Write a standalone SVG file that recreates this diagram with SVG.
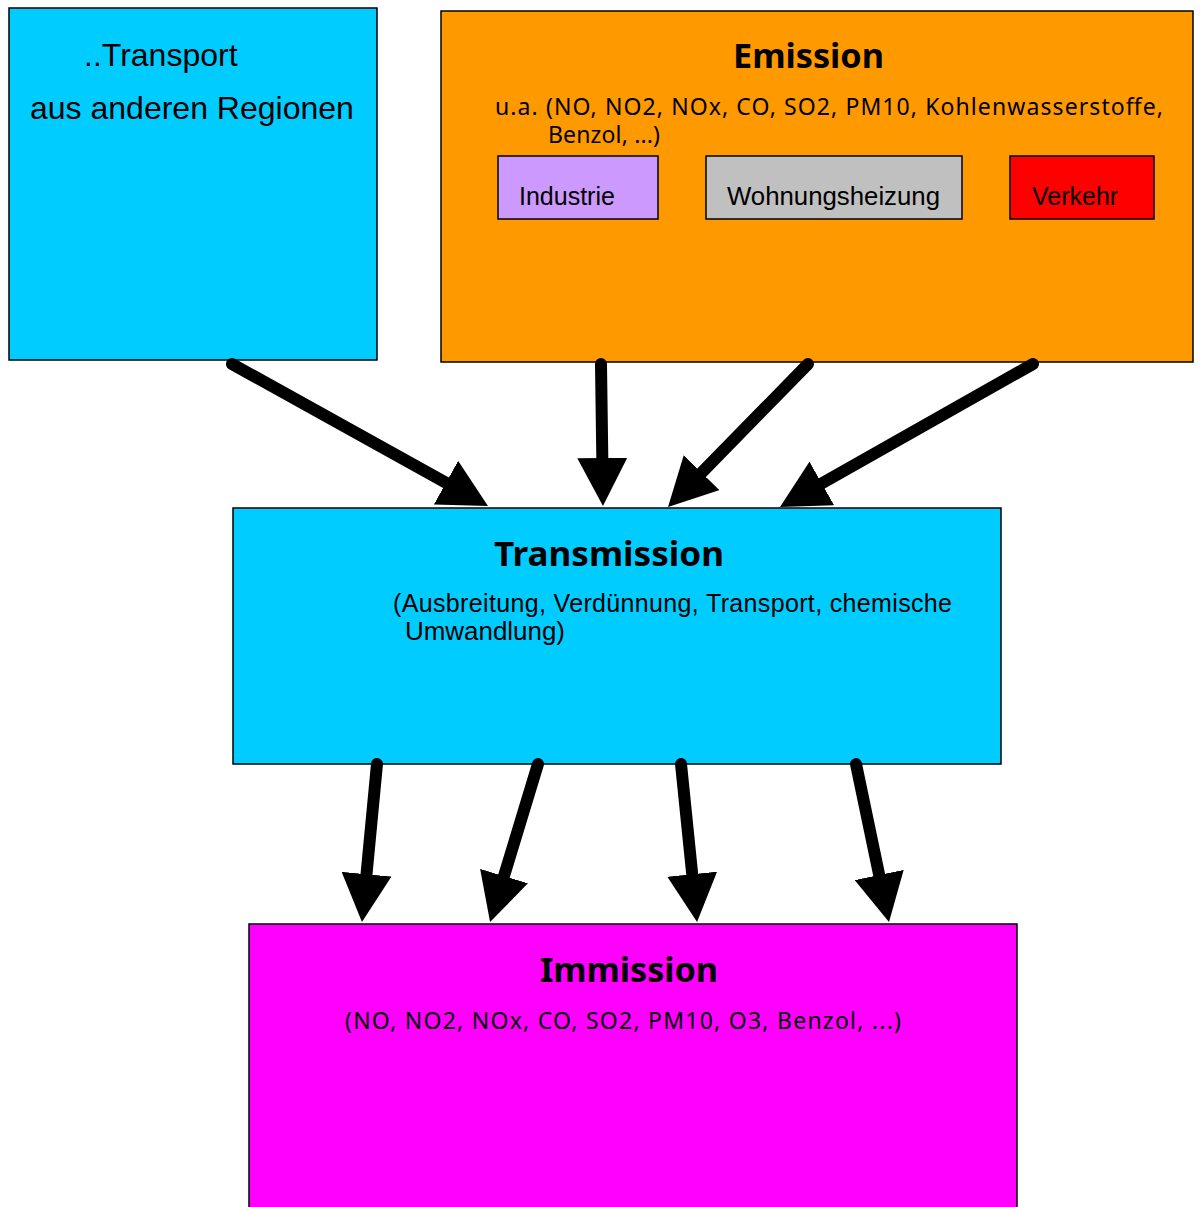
<svg xmlns="http://www.w3.org/2000/svg" width="1202" height="1207" viewBox="0 0 1202 1207">
<style>
.box{stroke:#000;stroke-width:1.5}
.arial{font-family:"Liberation Sans",Arial,sans-serif;fill:#000}
.title{font-family:"Noto Sans","DejaVu Sans",sans-serif;font-weight:bold;font-size:34px;fill:#000}
.para{font-family:"Noto Sans","DejaVu Sans",sans-serif;font-size:23px;fill:#000}
.arrow{stroke:#000;stroke-width:12;stroke-linecap:round;fill:none;marker-end:url(#head)}
</style>
<defs>
<marker id="head" markerUnits="userSpaceOnUse" markerWidth="48" markerHeight="50" viewBox="0 0 48 50" refX="0" refY="25" orient="auto">
<path d="M0,0 L48,25 L0,50 z" fill="#000"/>
</marker>
</defs>
<rect width="1202" height="1207" fill="#fff"/>
<g id="transport">
<rect class="box" x="9" y="8" width="368" height="352" fill="#00CCFF"/>
<text class="arial" x="84" y="66" font-size="32">..Transport</text>
<text class="arial" x="30" y="119" font-size="32">aus anderen Regionen</text>
</g>
<g id="emission">
<rect class="box" x="441" y="11" width="752" height="351" fill="#FF9900"/>
<text class="title" x="808.5" y="68" text-anchor="middle" textLength="151" lengthAdjust="spacingAndGlyphs">Emission</text>
<text class="para" x="495" y="115" textLength="668" lengthAdjust="spacing">u.a. (NO, NO2, NOx, CO, SO2, PM10, Kohlenwasserstoffe,</text>
<text class="para" x="548" y="143" textLength="112" lengthAdjust="spacing">Benzol, ...)</text>
</g>
<g id="industrie">
<rect class="box" x="498" y="156" width="160" height="63" fill="#CC99FF"/>
<text class="arial" x="519" y="205" font-size="25">Industrie</text>
</g>
<g id="wohnungsheizung">
<rect class="box" x="706" y="156" width="256" height="63" fill="#C0C0C0"/>
<text class="arial" x="727" y="205" font-size="25" textLength="213" lengthAdjust="spacingAndGlyphs">Wohnungsheizung</text>
</g>
<g id="verkehr">
<rect class="box" x="1010" y="156" width="144" height="63" fill="#FF0000"/>
<text class="arial" x="1032" y="205" font-size="25">Verkehr</text>
</g>
<g id="transmission">
<rect class="box" x="233" y="508" width="768" height="256" fill="#00CCFF"/>
<text class="title" x="609" y="566" text-anchor="middle" textLength="230" lengthAdjust="spacingAndGlyphs">Transmission</text>
<text class="arial" x="393" y="612" font-size="25" textLength="559" lengthAdjust="spacing">(Ausbreitung, Verdünnung, Transport, chemische</text>
<text class="arial" x="405" y="640" font-size="25" textLength="160" lengthAdjust="spacingAndGlyphs">Umwandlung)</text>
</g>
<g id="immission">
<rect class="box" x="249" y="924" width="768" height="300" fill="#FF00FF"/>
<text class="title" x="629" y="982" text-anchor="middle" textLength="178" lengthAdjust="spacingAndGlyphs">Immission</text>
<text class="para" x="345" y="1029" font-size="25" textLength="556" lengthAdjust="spacing">(NO, NO2, NOx, CO, SO2, PM10, O3, Benzol, ...)</text>
</g>
<g id="connectors">
<line class="arrow" x1="232" y1="364" x2="446" y2="482.7"/>
<line class="arrow" x1="601" y1="364" x2="602.3" y2="458"/>
<line class="arrow" x1="808" y1="364" x2="701.6" y2="472.7"/>
<line class="arrow" x1="1033" y1="364" x2="821.8" y2="483.4"/>
<line class="arrow" x1="377" y1="764" x2="366.5" y2="874.2"/>
<line class="arrow" x1="538" y1="764" x2="504" y2="876.1"/>
<line class="arrow" x1="681" y1="764" x2="692.2" y2="874.2"/>
<line class="arrow" x1="856" y1="764" x2="879.2" y2="875"/>
</g>
</svg>
